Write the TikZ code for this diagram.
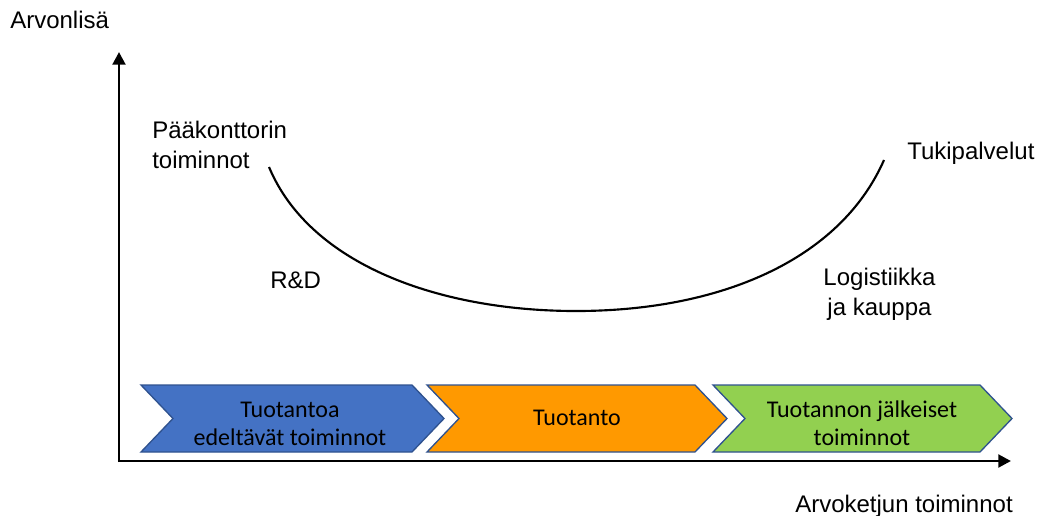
\documentclass[tikz,border=0pt]{standalone}
\usepackage{fontspec}
\setmainfont{Liberation Sans}
\newfontfamily\calfont{Carlito}
\usetikzlibrary{arrows.meta}
\definecolor{chblue}{HTML}{4472C4}
\definecolor{chorange}{HTML}{FF9900}
\definecolor{chgreen}{HTML}{92D050}
\definecolor{chborder}{HTML}{2F528F}
\tikzset{
  axis/.style={line width=2.2pt,-{Triangle[width=9.5pt,length=9.5pt]}},
  chev/.style={draw=chborder,line width=1pt,line join=miter},
  lbl/.style={font=\fontsize{18}{22.5}\selectfont,inner sep=0pt,text=black},
  chtext/.style={font=\calfont\fontsize{18}{21}\selectfont,inner sep=0pt,align=center,text=black},
  ucurve/.style={line width=1.6pt}
}
\begin{document}
\begin{tikzpicture}[x=0.75pt,y=-0.75pt]
\useasboundingbox (0,0) rectangle (1041,515);
% axes
\coordinate (origin) at (119,461);
\coordinate (ytip) at (119,52);
\coordinate (xtip) at (1011,461);
\draw[axis] (119,462.1) -- (ytip);
\draw[axis] (117.9,461) -- (xtip);
% chevrons
\path[chev,fill=chblue] (141,385) -- (412,385) -- (444,418.5) -- (412,452) -- (141,452) -- (173,418.5) -- cycle;
\path[chev,fill=chorange] (427,385) -- (695,385) -- (727,418.5) -- (695,452) -- (427,452) -- (459,418.5) -- cycle;
\path[chev,fill=chgreen] (713,385) -- (980,385) -- (1012,418.5) -- (980,452) -- (713,452) -- (745,418.5) -- cycle;
\node[chtext] (pre) at (290,423.5) {Tuotantoa\\edeltävät toiminnot};
\node[chtext,anchor=base] (prod) at (577,425) {Tuotanto};
\node[chtext] (post) at (862,423.5) {Tuotannon jälkeiset\\toiminnot};
% labels
\node[lbl,anchor=base west] (ylab) at (10,28) {Arvonlisä};
\node[lbl,anchor=base west] (xlab) at (795,512) {Arvoketjun toiminnot};
\node[lbl,anchor=west,align=left] (hq) at (152,145) {Pääkonttorin\\toiminnot};
\node[lbl,anchor=base west] (sup) at (907,159) {Tukipalvelut};
\node[lbl,anchor=base west] (rd) at (270,288) {R\&D};
\node[lbl,align=center] (log) at (879.5,294) {Logistiikka\\ja kauppa};
% smile curve
\coordinate (cs) at (269,167);
\coordinate (cm) at (576,311);
\coordinate (ce) at (884,160);
\draw[ucurve] (cs) .. controls (310,265) and (440,311) .. (cm) .. controls (720,311) and (840,260) .. (ce);
\end{tikzpicture}
\end{document}
